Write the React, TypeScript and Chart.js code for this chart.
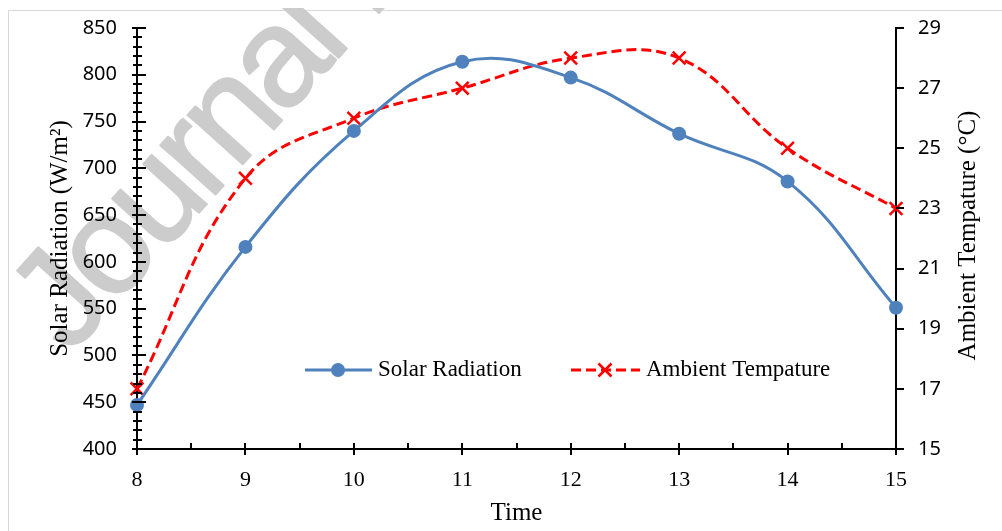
import React, { useEffect, useRef } from 'react';
import { Chart, registerables } from 'chart.js';

Chart.register(...registerables);

// ---- data ----
const hours = [8, 9, 10, 11, 12, 13, 14, 15];
const solarRadiation = [447, 616, 740, 814, 797, 737, 686, 551];
const ambientTemperature = [17, 24, 26, 27, 28, 28, 25, 23];

const solarAxis = { min: 400, max: 850, step: 50, minorStep: 10 };
const tempAxis = { min: 15, max: 29, step: 2 };
const timeAxis = { min: 8, max: 15, step: 1, minorStep: 0.5 };

const seriesNames = ['Solar Radiation', 'Ambient Tempature'];
const axisTitles = { x: 'Time', y: 'Solar Radiation (W/m²)', y1: 'Ambient Tempature (°C)' };
const watermark = 'Journal Pre-proof';

const BLUE = '#4F81BD';
const RED = '#FF0000';
const SERIF = '"Liberation Serif", "Times New Roman", serif';
const SANS = '"Noto Sans", "Open Sans", sans-serif';

const decorPlugin = {
  id: 'decor',
  beforeDraw(chart: any) {
    const ctx = chart.ctx;
    ctx.save();
    // chart outer border (only left/top visible)
    ctx.strokeStyle = '#d9d9d9';
    ctx.lineWidth = 1;
    ctx.strokeRect(0.5, 2.5, chart.width + 20, chart.height + 20);
    // watermark
    ctx.translate(62, 348);
    ctx.rotate((-48 * Math.PI) / 180);
    ctx.font = '140px "Liberation Sans", Arial, sans-serif';
    try {
      (ctx as any).letterSpacing = '-6px';
    } catch (e) {
      /* ignore */
    }
    ctx.fillStyle = '#cccccc';
    ctx.strokeStyle = '#cccccc';
    ctx.lineWidth = 2;
    ctx.lineJoin = 'round';
    ctx.textBaseline = 'alphabetic';
    ctx.textAlign = 'left';
    ctx.fillText(watermark, 0, 0);
    ctx.strokeText(watermark, 0, 0);
    try {
      (ctx as any).letterSpacing = '0px';
    } catch (e) {
      /* ignore */
    }
    ctx.restore();
  },
  afterDraw(chart: any) {
    const ctx = chart.ctx;
    const { x, y, y1 } = chart.scales;
    const { left: L, right: R, top: T, bottom: B } = chart.chartArea;
    ctx.save();
    // tick marks
    ctx.strokeStyle = '#000';
    ctx.lineWidth = 2;
    ctx.beginPath();
    for (let v = solarAxis.min; v <= solarAxis.max + 1e-9; v += solarAxis.minorStep) {
      const py = Math.round(y.getPixelForValue(v));
      const major = Math.abs(v % solarAxis.step) < 1e-9;
      ctx.moveTo(L - (major ? 5 : 4), py);
      ctx.lineTo(L + (major ? 9 : 5), py);
    }
    for (let h = timeAxis.min; h <= timeAxis.max + 1e-9; h += timeAxis.minorStep) {
      const px = Math.round(x.getPixelForValue(h));
      const major = Math.abs(h % timeAxis.step) < 1e-9;
      ctx.moveTo(px, B - 6);
      ctx.lineTo(px, major ? B + 6 : B);
    }
    for (let t = tempAxis.min; t <= tempAxis.max + 1e-9; t += tempAxis.step) {
      const py = Math.round(y1.getPixelForValue(t));
      ctx.moveTo(R, py);
      ctx.lineTo(R + 8, py);
    }
    ctx.stroke();

    // axis titles
    ctx.fillStyle = '#000';
    ctx.font = `25px ${SERIF}`;
    ctx.textAlign = 'center';
    ctx.textBaseline = 'middle';
    ctx.fillText(axisTitles.x, (L + R) / 2, 505);
    const cy = (T + B) / 2;
    ctx.save();
    ctx.translate(52, cy);
    ctx.rotate(-Math.PI / 2);
    ctx.fillText(axisTitles.y, 0, 0);
    ctx.restore();
    ctx.save();
    ctx.translate(960, cy - 3);
    ctx.rotate(-Math.PI / 2);
    ctx.fillText(axisTitles.y1, 0, 0);
    ctx.restore();

    // legend
    const ly = T + 342;
    ctx.lineWidth = 3;
    ctx.strokeStyle = BLUE;
    ctx.beginPath();
    ctx.moveTo(L + 168, ly);
    ctx.lineTo(L + 235, ly);
    ctx.stroke();
    ctx.fillStyle = BLUE;
    ctx.beginPath();
    ctx.arc(L + 201, ly, 7, 0, Math.PI * 2);
    ctx.fill();

    ctx.strokeStyle = RED;
    ctx.setLineDash([10, 5]);
    ctx.beginPath();
    ctx.moveTo(L + 434, ly);
    ctx.lineTo(L + 503, ly);
    ctx.stroke();
    ctx.setLineDash([]);
    ctx.lineWidth = 2.5;
    ctx.beginPath();
    const cx = L + 468;
    ctx.moveTo(cx - 6.5, ly - 6.5);
    ctx.lineTo(cx + 6.5, ly + 6.5);
    ctx.moveTo(cx + 6.5, ly - 6.5);
    ctx.lineTo(cx - 6.5, ly + 6.5);
    ctx.stroke();

    ctx.fillStyle = '#000';
    ctx.font = `23px ${SERIF}`;
    ctx.textAlign = 'left';
    ctx.fillText(seriesNames[0], L + 241, ly);
    ctx.fillText(seriesNames[1], L + 509, ly);
    ctx.restore();
  },
};

const zeroPad = (s: any) => {
  s.paddingTop = 0;
  s.paddingBottom = 0;
  s.paddingLeft = 0;
  s.paddingRight = 0;
};

export default function App() {
  const canvasRef = useRef<HTMLCanvasElement | null>(null);

  useEffect(() => {
    const canvas = canvasRef.current;
    if (!canvas) return;
    const chart = new Chart(canvas, {
      type: 'line',
      data: {
        datasets: [
          {
            label: seriesNames[0],
            yAxisID: 'y',
            data: hours.map((h, i) => ({ x: h, y: solarRadiation[i] })),
            borderColor: BLUE,
            backgroundColor: BLUE,
            borderWidth: 3,
            pointRadius: 7,
            pointBorderWidth: 0,
            pointBackgroundColor: BLUE,
            tension: 0.4,
            clip: false,
          },
          {
            label: seriesNames[1],
            yAxisID: 'y1',
            data: hours.map((h, i) => ({ x: h, y: ambientTemperature[i] })),
            borderColor: RED,
            backgroundColor: RED,
            borderWidth: 3,
            borderDash: [10, 5],
            pointStyle: 'crossRot',
            pointRadius: 9,
            pointBorderWidth: 2.5,
            pointBorderColor: RED,
            tension: 0.4,
            clip: false,
          },
        ],
      },
      options: {
        responsive: false,
        animation: false,
        layout: { padding: { top: 20, left: 0, right: 0, bottom: 0 } },
        plugins: { legend: { display: false }, tooltip: { enabled: false } },
        scales: {
          x: {
            type: 'linear',
            position: 'bottom',
            min: timeAxis.min,
            max: timeAxis.max,
            ticks: {
              stepSize: timeAxis.step,
              color: '#000',
              font: { family: SERIF, size: 22 },
              padding: 18,
              maxRotation: 0,
            },
            grid: { display: false, drawTicks: false },
            border: { display: true, color: '#000', width: 2 },
            afterFit: (s: any) => {
              s.height = 82;
              zeroPad(s);
            },
          },
          y: {
            type: 'linear',
            position: 'left',
            min: solarAxis.min,
            max: solarAxis.max,
            ticks: {
              stepSize: solarAxis.step,
              color: '#000',
              font: { family: SANS, size: 20 },
              padding: 20,
            },
            grid: { display: false, drawTicks: false },
            border: { display: true, color: '#000', width: 2 },
            afterFit: (s: any) => {
              s.width = 129;
              zeroPad(s);
            },
          },
          y1: {
            type: 'linear',
            position: 'right',
            min: tempAxis.min,
            max: tempAxis.max,
            ticks: {
              stepSize: tempAxis.step,
              color: '#000',
              font: { family: SANS, size: 20 },
              padding: 22,
            },
            grid: { display: false, drawTicks: false },
            border: { display: true, color: '#000', width: 2 },
            afterFit: (s: any) => {
              s.width = 106;
              zeroPad(s);
            },
          },
        },
      },
      plugins: [decorPlugin],
    } as any);
    return () => chart.destroy();
  }, []);

  return (
    <div style={{ position: 'fixed', left: 8, top: 8, width: 994, height: 523 }}>
      <canvas ref={canvasRef} width={994} height={523} style={{ display: 'block' }} />
    </div>
  );
}
